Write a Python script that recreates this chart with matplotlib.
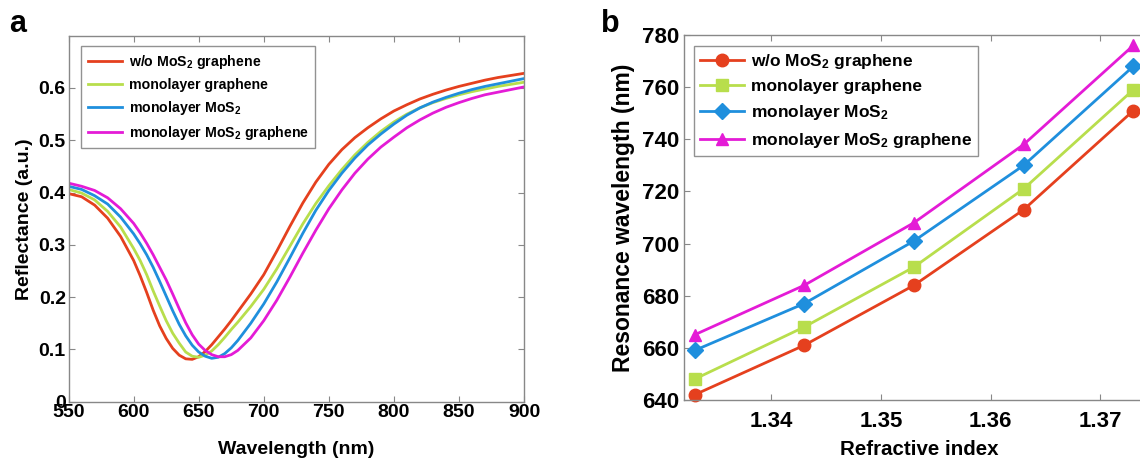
import numpy as np
import matplotlib
matplotlib.use('Agg')
import matplotlib.pyplot as plt

plt.rcParams['font.family'] = ['Liberation Sans', 'DejaVu Sans']
plt.rcParams['font.weight'] = 'bold'
plt.rcParams['mathtext.fontset'] = 'custom'
plt.rcParams['mathtext.rm'] = 'Liberation Sans:bold'
plt.rcParams['mathtext.bf'] = 'Liberation Sans:bold'
plt.rcParams['mathtext.default'] = 'bf'

# ---- panel a : reflectance spectra
wl = [550, 560, 570, 580, 590, 600, 605, 610, 615, 620, 625, 630, 635, 640, 645,
      650, 655, 660, 665, 670, 675, 680, 690, 700, 710, 720, 730, 740, 750, 760,
      770, 780, 790, 800, 810, 820, 830, 840, 850, 860, 870, 880, 890, 900]
r_wo = [.398, .392, .376, .351, .316, .270, .241, .209, .175, .145, .121, .102, .089, .082, .081,
        .086, .096, .109, .124, .139, .155, .172, .206, .243, .288, .335, .380, .420, .454, .482,
        .505, .524, .541, .556, .568, .579, .588, .596, .603, .609, .615, .620, .624, .628]
r_gr = [.406, .399, .386, .364, .334, .293, .270, .243, .212, .183, .155, .131, .112, .095, .087,
        .085, .089, .097, .109, .123, .138, .152, .182, .215, .254, .297, .340, .379, .413, .444,
        .472, .496, .517, .535, .550, .562, .572, .580, .587, .593, .598, .603, .607, .611]
r_mo = [.412, .406, .394, .378, .353, .321, .302, .281, .257, .230, .202, .174, .148, .126, .108,
        .095, .087, .083, .085, .092, .103, .117, .150, .187, .229, .275, .322, .366, .404, .437,
        .466, .491, .512, .531, .548, .562, .573, .582, .590, .597, .603, .608, .613, .618]
r_mg = [.418, .412, .404, .390, .369, .341, .323, .303, .281, .257, .233, .206, .178, .151, .128,
        .110, .098, .090, .086, .086, .090, .098, .122, .155, .194, .238, .284, .328, .369, .405,
        .437, .464, .487, .506, .524, .539, .552, .563, .572, .580, .587, .592, .597, .602]

# ---- panel b : resonance wavelength vs refractive index
n_idx = [1.333, 1.343, 1.353, 1.363, 1.373]
res_wo = [642, 661, 684, 713, 751]
res_gr = [648, 668, 691, 721, 759]
res_mo = [659, 677, 701, 730, 768]
res_mg = [665, 684, 708, 738, 776]

labels = [r'w/o MoS$_2$ graphene', 'monolayer graphene',
          r'monolayer MoS$_2$', r'monolayer MoS$_2$ graphene']
colors = ['#e5401e', '#b8de4c', '#1f8fdd', '#e41bd6']
markers = ['o', 's', 'D', '^']

fig = plt.figure(figsize=(11.4, 4.59), dpi=100)

def style(ax):
    for s in ax.spines.values():
        s.set_color('#888888')
        s.set_linewidth(1.0)
    ax.tick_params(direction='in', top=True, right=True, color='#888888',
                   length=4, width=0.8)

ax1 = fig.add_axes([68.6/1140, 57.3/459, 455.4/1140, 366/459])
for y, c, l in zip([r_wo, r_gr, r_mo, r_mg], colors, labels):
    ax1.plot(wl, y, color=c, lw=2, label=l)
ax1.set_xlim(550, 900)
ax1.set_ylim(0, 0.7)
ax1.set_xticks(np.arange(550, 901, 50))
ax1.set_yticks([0, 0.1, 0.2, 0.3, 0.4, 0.5, 0.6])
ax1.set_yticklabels(['0', '0.1', '0.2', '0.3', '0.4', '0.5', '0.6'])
style(ax1)
ax1.tick_params(labelsize=14, pad=2)
ax1.set_xlabel('Wavelength (nm)', fontsize=14, fontweight='bold', labelpad=14)
ax1.set_ylabel('Reflectance (a.u.)', fontsize=14, fontweight='bold', labelpad=4)
leg1 = ax1.legend(loc='upper left', bbox_to_anchor=(0.012, 0.99), fontsize=10.2,
                  frameon=True, fancybox=False, edgecolor='#777777', handlelength=2.4,
                  labelspacing=0.5, borderpad=0.45, handletextpad=0.5)
leg1.get_frame().set_linewidth(1.0)
fig.text(0.008, 0.93, 'a', fontsize=22, fontweight='bold')

ax2 = fig.add_axes([683.6/1140, 59/459, 471.7/1140, 365/459])
for y, c, m, l in zip([res_wo, res_gr, res_mo, res_mg], colors, markers, labels):
    ax2.plot(n_idx, y, color=c, lw=2, marker=m, markersize=9 if m != 'D' else 8,
             label=l, clip_on=False)
ax2.set_xlim(1.332, 1.375)
ax2.set_ylim(640, 780)
ax2.set_xticks([1.34, 1.35, 1.36, 1.37])
ax2.set_yticks(np.arange(640, 781, 20))
style(ax2)
ax2.tick_params(axis='y', labelsize=16, pad=3)
ax2.tick_params(axis='x', labelsize=16, pad=8)
ax2.set_xlabel('Refractive index', fontsize=14.8, fontweight='bold', labelpad=6)
ax2.set_ylabel('Resonance wavelength (nm)', fontsize=16.5, fontweight='bold', labelpad=5)
leg2 = ax2.legend(loc='upper left', bbox_to_anchor=(0.004, 0.995), fontsize=12.5,
                  frameon=True, fancybox=False, edgecolor='#777777', handlelength=2.5,
                  labelspacing=0.5, borderpad=0.35, handletextpad=0.4)
leg2.get_frame().set_linewidth(1.0)
fig.text(0.527, 0.93, 'b', fontsize=22, fontweight='bold')

fig.savefig('out.png', dpi=100)
